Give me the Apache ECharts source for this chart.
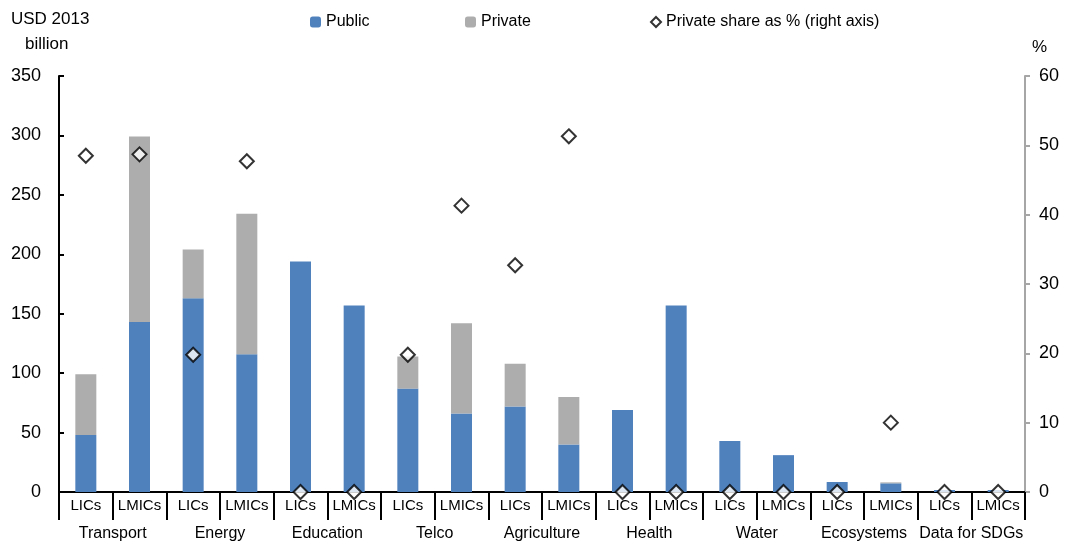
<!DOCTYPE html>
<html>
<head>
<meta charset="utf-8">
<script src="https://cdn.jsdelivr.net/npm/echarts@6/dist/echarts.min.js"></script>
<style>
html,body{margin:0;padding:0;background:#fff;}
#chart{width:1065px;height:550px;}
</style>
</head>
<body>
<div id="chart"></div>
<script>
const sectors = ['Transport','Energy','Education','Telco','Agriculture','Health','Water','Ecosystems','Data for SDGs'];
const subLabels = ['LICs','LMICs','LICs','LMICs','LICs','LMICs','LICs','LMICs','LICs','LMICs','LICs','LMICs','LICs','LMICs','LICs','LMICs','LICs','LMICs'];
const publicVals  = [48, 143, 163, 116, 194, 157, 87, 66, 72, 40, 69, 157, 43, 31, 8.4, 7.3, 1.7, 1.7];
const privateVals = [51, 156, 41, 118, 0, 0, 27, 76, 36, 40, 0, 0, 0, 0, 0, 0.8, 0, 0];
const shareVals   = [48.5, 48.7, 19.8, 47.7, 0, 0, 19.8, 41.3, 32.7, 51.3, 0, 0, 0, 0, 0, 10, 0, 0];

const FONT = "'Liberation Sans Narrow','Arial Narrow','Liberation Sans',sans-serif";
const txt = {fontFamily: FONT, fontSize: 16, color: '#000'};
const chart = echarts.init(document.getElementById('chart'));
const catIdx = subLabels.map((_, i) => String(i));

chart.setOption({
  animation: false,
  grid: {left: 59, right: 40, top: 76, bottom: 58, containLabel: false},
  legend: [
    {data: ['Public'], left: 305, top: 9, itemWidth: 11, itemHeight: 11, textStyle: txt, selectedMode: false},
    {data: ['Private'], left: 460, top: 9, itemWidth: 11, itemHeight: 11, textStyle: txt, selectedMode: false},
    {data: [{name: 'Private share as % (right axis)', icon: 'diamond'}], left: 645, top: 9, itemWidth: 10, itemHeight: 10, textStyle: txt, selectedMode: false}
  ],
  graphic: [
    {type: 'text', left: 11, top: 11, style: {text: 'USD 2013', font: '17px ' + FONT, fill: '#000'}},
    {type: 'text', left: 25, top: 36, style: {text: 'billion', font: '17px ' + FONT, fill: '#000'}},
    {type: 'text', left: 1032, top: 39, style: {text: '%', font: '17px ' + FONT, fill: '#000'}}
  ],
  xAxis: [
    {
      type: 'category', data: catIdx, position: 'bottom',
      axisLine: {show: true, lineStyle: {color: '#000', width: 2}},
      axisTick: {show: true, interval: 0, length: 28, lineStyle: {color: '#000', width: 2}},
      axisLabel: {interval: 0, margin: 6, formatter: v => subLabels[+v], ...txt, fontSize: 15}
    },
    {
      type: 'category', data: sectors, position: 'bottom', offset: 28,
      axisLine: {show: false},
      axisTick: {show: true, interval: 0, length: 28, lineStyle: {color: '#000', width: 2}},
      axisLabel: {interval: 0, margin: 6, ...txt}
    }
  ],
  yAxis: [
    {
      type: 'value', min: 0, max: 350, interval: 50, position: 'left',
      splitLine: {show: false},
      axisLine: {show: true, lineStyle: {color: '#000', width: 2}},
      axisTick: {show: true, inside: true, length: 5, lineStyle: {color: '#000', width: 2}},
      axisLabel: {margin: 18, ...txt, fontSize: 18}
    },
    {
      type: 'value', min: 0, max: 60, interval: 10, position: 'right',
      splitLine: {show: false},
      axisLine: {show: true, lineStyle: {color: '#A6A6A6', width: 2}},
      axisTick: {show: true, inside: false, length: 5, lineStyle: {color: '#A6A6A6', width: 2}},
      axisLabel: {margin: 14, ...txt, fontSize: 18}
    }
  ],
  series: [
    {name: 'Public', type: 'bar', stack: 'a', data: publicVals, barWidth: 21, itemStyle: {color: '#4F81BD'}, xAxisIndex: 0, yAxisIndex: 0},
    {name: 'Private', type: 'bar', stack: 'a', data: privateVals, barWidth: 21, itemStyle: {color: '#ADADAD'}, xAxisIndex: 0, yAxisIndex: 0},
    {name: 'Private share as % (right axis)', type: 'scatter', data: shareVals, xAxisIndex: 0, yAxisIndex: 1,
      symbol: 'diamond', symbolSize: 14, z: 10,
      itemStyle: {color: '#fff', borderColor: '#000', borderWidth: 2}}
  ]
});
</script>
</body>
</html>
